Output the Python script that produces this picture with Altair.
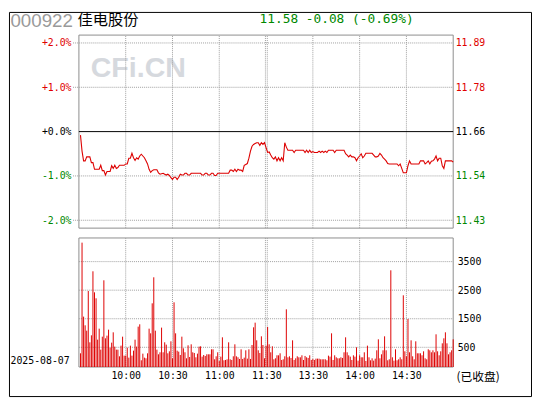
import altair as alt
import pandas as pd

# ---------------- data ----------------
stock_code = "000922"
stock_name = "佳电股份"
trade_date = "2025-08-07"
status_text = "(已收盘)"
watermark = "CFi.CN"
prev_close = 11.66
last_price = 11.58

# % change vs previous close, one value per minute (9:31-11:30, 13:01-15:00)
pct_morning = [
    -0.08, -0.44, -0.66, -0.66, -0.57, -0.57, -0.57, -0.70, -0.70, -0.85,
    -0.85, -0.85, -0.85, -0.76, -0.88, -0.88, -0.98, -0.90, -0.90, -0.90,
    -0.77, -0.83, -0.76, -0.83, -0.81, -0.76, -0.76, -0.76, -0.76, -0.73,
    -0.73, -0.60, -0.60, -0.49, -0.59, -0.65, -0.59, -0.62, -0.55, -0.51,
    -0.55, -0.59, -0.66, -0.73, -0.85, -0.92, -0.88, -0.86, -0.86, -0.86,
    -0.93, -0.96, -0.95, -0.94, -0.96, -0.98, -0.96, -0.99, -1.04, -1.08,
    -1.03, -1.03, -1.08, -1.03, -0.96, -0.98, -0.98, -0.94, -0.94, -0.98,
    -0.98, -0.94, -0.94, -0.94, -0.94, -0.94, -0.94, -0.94, -0.98, -0.98,
    -0.94, -0.94, -0.98, -0.98, -0.94, -0.94, -0.99, -0.99, -0.94, -0.94,
    -0.94, -0.94, -0.94, -0.94, -0.94, -0.94, -0.87, -0.87, -0.90, -0.85,
    -0.90, -0.85, -0.87, -0.87, -0.90, -0.76, -0.74, -0.72, -0.60, -0.44,
    -0.33, -0.29, -0.27, -0.25, -0.25, -0.31, -0.25, -0.29, -0.25, -0.36,
]
pct_afternoon = [
    -0.47, -0.46, -0.53, -0.59, -0.62, -0.57, -0.66, -0.59, -0.66, -0.59,
    -0.66, -0.25, -0.35, -0.42, -0.42, -0.42, -0.42, -0.47, -0.42, -0.42,
    -0.42, -0.42, -0.42, -0.42, -0.47, -0.42, -0.47, -0.42, -0.47, -0.45,
    -0.47, -0.47, -0.47, -0.44, -0.47, -0.44, -0.47, -0.44, -0.47, -0.42,
    -0.42, -0.42, -0.42, -0.47, -0.42, -0.42, -0.42, -0.42, -0.42, -0.42,
    -0.50, -0.53, -0.57, -0.53, -0.57, -0.57, -0.59, -0.66, -0.59, -0.55,
    -0.50, -0.59, -0.55, -0.49, -0.49, -0.49, -0.49, -0.49, -0.53, -0.57,
    -0.57, -0.55, -0.49, -0.53, -0.59, -0.62, -0.66, -0.72, -0.73, -0.73,
    -0.73, -0.73, -0.73, -0.73, -0.77, -0.73, -0.83, -0.93, -0.93, -0.93,
    -0.77, -0.66, -0.73, -0.73, -0.73, -0.73, -0.73, -0.73, -0.66, -0.66,
    -0.66, -0.73, -0.70, -0.66, -0.73, -0.67, -0.66, -0.62, -0.55, -0.66,
    -0.60, -0.60, -0.77, -0.83, -0.66, -0.66, -0.66, -0.66, -0.66, -0.69,
]
vol_morning = [
    290, 4164, 1574, 1270, 1083, 2472, 675, 920, 3161, 2425,
    2215, 768, 1153, 418, 873, 2846, 815, 908, 1118, 488,
    663, 1025, 523, 418, 418, 185, 558, 873, 208, 208,
    488, 138, 558, 208, 383, 768, 523, 1224, 1305, 45,
    278, 138, 115, 290, 1153, 990, 2040, 2951, 1083, 418,
    255, 325, 1189, 325, 675, 593, 290, 360, 710, 115,
    2075, 990, 383, 348, 231, 873, 465, 325, 115, 570,
    161, 605, 325, 301, 150, 278, 523, 535, 173, 231,
    196, 255, 255, 255, 430, 430, 80, 185, 325, 21,
    173, 850, 45, 57, 80, 675, 80, 57, 185, 605,
    185, 150, 92, 430, 92, 138, 395, 103, 430, 92,
    581, 1200, 1363, 745, 395, 301, 885, 581, 115, 558,
]
vol_afternoon = [
    1212, 605, 325, 535, 80, 115, 220, 220, 290, 57,
    80, 185, 1830, 150, 185, 127, 745, 57, 115, 185,
    150, 150, 220, 57, 197, 150, 127, 220, 57, 92,
    57, 103, 103, 103, 80, 80, 80, 80, 45, 208,
    173, 990, 57, 220, 150, 115, 115, 150, 127, 325,
    850, 325, 220, 173, 57, 220, 173, 500, 33, 220,
    150, 150, 325, 22, 558, 150, 45, 115, 33, 103,
    395, 780, 115, 255, 395, 885, 395, 45, 80, 3196,
    150, 33, 430, 45, 80, 150, 80, 2320, 360, 185,
    1492, 325, 745, 185, 80, 710, 290, 290, 290, 220,
    360, 115, 80, 430, 395, 325, 395, 325, 955, 360,
    220, 360, 640, 815, 1025, 640, 255, 325, 395, 780,
]
minutes = list(range(1, 241))

pct_grid = [-2, -1, 1, 2]
pct_ticks = [-2, -1, 0, 1, 2]
vol_ticks = [500, 1500, 2500, 3500]
time_grid = [30, 60, 90, 119.6, 120.8, 150, 180, 210]
time_tick_pos = [30, 60, 90, 120.2, 150, 180, 210]
time_tick_lab = ["10:00", "10:30", "11:00", "11:30", "13:30", "14:00", "14:30"]

# ---------------- layout / style ----------------
W, H = 530, 390
X0, X1 = 71, 451
PY_BOT, PY_TOP = 219.5, 23.5
VY_BOT, VY_TOP = 360.5, 229.5
PCT_LIM = 2.1778
VOL_LO, VOL_HI = -189.66, 4327.59
T_MAX = 240

RED = "#e00000"
LINE_RED = "#dd0000"
BAR_RED = "#dd0000"
GREEN = "#008800"
GRID = "#a0a0a0"
FRAME = "#8c8c8c"
MONO = "DejaVu Sans Mono"
CJK = "Noto Sans CJK SC"

xs = alt.Scale(domain=[0, T_MAX], range=[X0, X1], nice=False, zero=False)
pct_s = alt.Scale(domain=[-PCT_LIM, PCT_LIM], range=[PY_BOT, PY_TOP], nice=False, zero=False)
price_s = alt.Scale(domain=[prev_close * (1 - PCT_LIM / 100), prev_close * (1 + PCT_LIM / 100)],
                    range=[PY_BOT, PY_TOP], nice=False, zero=False)
vol_s = alt.Scale(domain=[VOL_LO, VOL_HI], range=[VY_BOT, VY_TOP], nice=False, zero=False)

price_df = pd.DataFrame({"minute": minutes, "pct": pct_morning + pct_afternoon})
vol_df = pd.DataFrame({"minute": minutes, "vol": vol_morning + vol_afternoon})

change = last_price - prev_close
quote = f"{last_price:.2f} {change:+.2f} ({change / prev_close * 100:+.2f}%)"


def text_layer(txt, x, y, font, size, color, align="left", baseline="alphabetic", weight="normal"):
    return alt.Chart(pd.DataFrame({"t": [txt]})).mark_text(
        align=align, baseline=baseline, font=font, fontSize=size, color=color, fontWeight=weight
    ).encode(text="t:N", x=alt.value(x), y=alt.value(y))


def frame_layer(yscale, ylo, yhi):
    df = pd.DataFrame({"x0": [0], "x1": [T_MAX], "y0": [ylo], "y1": [yhi]})
    return alt.Chart(df).mark_rect(fillOpacity=0, stroke=FRAME, strokeWidth=1).encode(
        x=alt.X("x0:Q", scale=xs, axis=None), x2="x1:Q",
        y=alt.Y("y0:Q", scale=yscale, axis=None), y2="y1:Q")


def vgrid_layer(yscale, ylo, yhi, xaxis=None):
    df = pd.DataFrame({"gx": time_grid, "y0": ylo, "y1": yhi})
    return alt.Chart(df).mark_rule(color=GRID, strokeDash=[1, 1], strokeWidth=1).encode(
        x=alt.X("gx:Q", scale=xs, axis=xaxis),
        y=alt.Y("y0:Q", scale=yscale, axis=None), y2="y1:Q")


left_axis = alt.Axis(
    orient="left", offset=-X0, values=pct_ticks, title=None,
    labelExpr="(datum.value < 0 ? '-' : '+') + format(abs(datum.value), '.1f') + '%'",
    labelColor={"condition": [{"test": "datum.value > 0.001", "value": RED},
                              {"test": "datum.value < -0.001", "value": GREEN}],
                "value": "#000000"},
    domain=False, ticks=False, tickSize=0, grid=False, labelPadding=8,
    labelFont=MONO, labelFontSize=10)

price_ticks = [prev_close * (1 + p / 100) for p in pct_ticks]
right_price_axis = alt.Axis(
    orient="right", offset=X1 - W, values=price_ticks, format=".2f", title=None,
    labelColor={"condition": [{"test": f"datum.value > {prev_close + 0.005}", "value": RED},
                              {"test": f"datum.value < {prev_close - 0.005}", "value": GREEN}],
                "value": "#000000"},
    domain=False, ticks=False, tickSize=0, grid=False, labelPadding=2,
    labelFont=MONO, labelFontSize=10)

vol_axis = alt.Axis(
    orient="right", offset=X1 - W, values=vol_ticks, format="d", title=None,
    labelColor="#000000", domain=False, ticks=False, tickSize=0, grid=False,
    labelPadding=4, labelFont=MONO, labelFontSize=10)

lab_arr = "[" + ",".join(f"'{s}'" for s in time_tick_lab) + "]"
pos_arr = "[" + ",".join(str(p) for p in time_tick_pos) + "]"
time_axis = alt.Axis(
    orient="bottom", offset=VY_BOT - H, values=time_tick_pos, title=None,
    labelExpr=f"{lab_arr}[indexof({pos_arr}, datum.value)]",
    labelColor="#000000", domain=False, ticks=False, tickSize=0, grid=False,
    labelPadding=4, labelFont=MONO, labelFontSize=10, labelFlush=False, labelOverlap=False)

# ---------------- layers ----------------
wm = text_layer(watermark, 83, 66, "Liberation Sans", 29, "#d6d9de", weight="bold")

p_frame = frame_layer(pct_s, -PCT_LIM, PCT_LIM)
p_vgrid = vgrid_layer(pct_s, -PCT_LIM, PCT_LIM)
p_hgrid = alt.Chart(pd.DataFrame({"gy": pct_grid, "x0": -3.8, "x1": T_MAX})).mark_rule(
    color=GRID, strokeDash=[1, 1], strokeWidth=1).encode(
    x=alt.X("x0:Q", scale=xs, axis=None), x2="x1:Q",
    y=alt.Y("gy:Q", scale=pct_s, axis=left_axis))
p_zero = alt.Chart(pd.DataFrame({"gy": [0], "x0": [0], "x1": [T_MAX]})).mark_rule(
    color="#000000", strokeWidth=1).encode(
    x=alt.X("x0:Q", scale=xs, axis=None), x2="x1:Q",
    y=alt.Y("gy:Q", scale=pct_s, axis=None))
p_line = alt.Chart(price_df).transform_calculate(
    price=f"{prev_close} * (1 + datum.pct / 100)").mark_line(
    color=LINE_RED, strokeWidth=1.1).encode(
    x=alt.X("minute:Q", scale=xs, axis=None),
    y=alt.Y("price:Q", scale=price_s, axis=right_price_axis))

v_frame = frame_layer(vol_s, VOL_LO, VOL_HI)
v_vgrid = vgrid_layer(vol_s, VOL_LO, VOL_HI, xaxis=time_axis)
v_hgrid = alt.Chart(pd.DataFrame({"gv": vol_ticks, "x0": 0, "x1": T_MAX})).mark_rule(
    color=GRID, strokeDash=[1, 1], strokeWidth=1).encode(
    x=alt.X("x0:Q", scale=xs, axis=None), x2="x1:Q",
    y=alt.Y("gv:Q", scale=vol_s, axis=vol_axis))
v_bars = alt.Chart(vol_df).transform_calculate(base=f"{VOL_LO}").mark_rule(
    color=BAR_RED, strokeWidth=1).encode(
    x=alt.X("minute:Q", scale=xs, axis=None),
    y=alt.Y("vol:Q", scale=vol_s, axis=None), y2="base:Q")

t_code = text_layer(stock_code, 1.5, 15.8, "Liberation Sans", 19, "#9a9a9a")
t_name = text_layer(stock_name, 69.5, 13.2, CJK, 15.5, "#000000")
t_quote = text_layer(quote, 254.4, 11, MONO, 13, GREEN)
t_date = text_layer(trade_date, 1.5, 354, MONO, 10, "#000000", baseline="middle")
t_status = text_layer(status_text, 454.3, 370.7, CJK, 12, "#000000", baseline="middle")

chart = alt.layer(
    wm, p_frame, p_vgrid, p_hgrid, p_zero, p_line,
    v_frame, v_vgrid, v_hgrid, v_bars,
    t_code, t_name, t_quote, t_date, t_status,
).resolve_scale(x="independent", y="independent").properties(
    width=W, height=H, padding=1, autosize=alt.AutoSizeParams(type="none"),
).configure_view(stroke="#000000", strokeWidth=1)

chart.save("out.html", embed_options={"renderer": "svg", "actions": False})
